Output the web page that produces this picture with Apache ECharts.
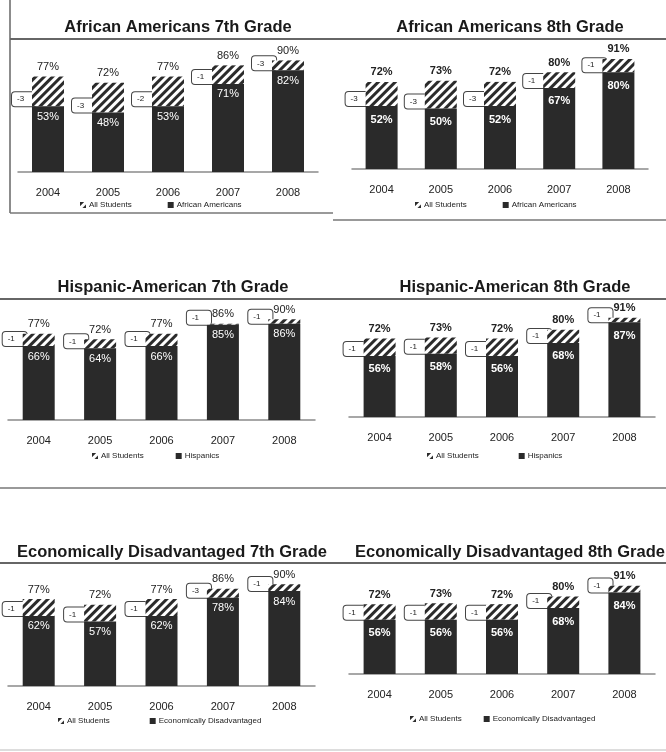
<!DOCTYPE html>
<html lang="en">
<head>
    <meta charset="UTF-8">
    <title>Grade comparisons</title>
    <style>
        html, body { margin: 0; padding: 0; background: #fff; }
        #main { width: 666px; height: 752px; }
    </style>
</head>
<body>
<div id="main"></div>
<script src="https://cdn.jsdelivr.net/npm/echarts@6/dist/echarts.min.js"></script>
<script type="text/javascript">
    // data
    var years = ['2004', '2005', '2006', '2007', '2008'];
    var allStudents7 = [77, 72, 77, 86, 90];
    var allStudents8 = [72, 73, 72, 80, 91];
    var africanAm7 = [53, 48, 53, 71, 82];
    var africanAm8 = [52, 50, 52, 67, 80];
    var hispanic7 = [66, 64, 66, 85, 86];
    var hispanic8 = [56, 58, 56, 68, 87];
    var econDis7 = [62, 57, 62, 78, 84];
    var econDis8 = [56, 56, 56, 68, 84];
    // small callout notes next to each group bar
    var notesAfr7 = ['-3', '-3', '-2', '-1', '-3'];
    var notesAfr8 = ['-3', '-3', '-3', '-1', '-1'];
    var notesHis7 = ['-1', '-1', '-1', '-1', '-1'];
    var notesHis8 = ['-1', '-1', '-1', '-1', '-1'];
    var notesEco7 = ['-1', '-1', '-1', '-3', '-1'];
    var notesEco8 = ['-1', '-1', '-1', '-1', '-1'];

    var panels = [
        {title: 'African Americans 7th Grade', group: 'African Americans', all: allStudents7, sub: africanAm7, notes: notesAfr7,
         grid: {left: 18, width: 300, top: 48, height: 124}, titlePos: {x: 173, y: 14}, legendTop: 201, legendX: 80, legendGap: 36, bold: false},
        {title: 'African Americans 8th Grade', group: 'African Americans', all: allStudents8, sub: africanAm8, notes: notesAfr8,
         grid: {left: 352, width: 296, top: 48, height: 121}, titlePos: {x: 505, y: 14}, legendTop: 201, legendX: 415, legendGap: 36, bold: true},
        {title: 'Hispanic-American 7th Grade', group: 'Hispanics', all: allStudents7, sub: hispanic7, notes: notesHis7,
         grid: {left: 8, width: 307, top: 308, height: 112}, titlePos: {x: 168, y: 274}, legendTop: 452, legendX: 92, legendGap: 32, bold: false},
        {title: 'Hispanic-American 8th Grade', group: 'Hispanics', all: allStudents8, sub: hispanic8, notes: notesHis8,
         grid: {left: 349, width: 306, top: 308, height: 109}, titlePos: {x: 510, y: 274}, legendTop: 452, legendX: 427, legendGap: 40, bold: true},
        {title: 'Economically Disadvantaged 7th Grade', group: 'Economically Disadvantaged', all: allStudents7, sub: econDis7, notes: notesEco7,
         grid: {left: 8, width: 307, top: 573, height: 113}, titlePos: {x: 167, y: 539}, legendTop: 717, legendX: 58, legendGap: 40, bold: false},
        {title: 'Economically Disadvantaged 8th Grade', group: 'Economically Disadvantaged', all: allStudents8, sub: econDis8, notes: notesEco8,
         grid: {left: 349, width: 306, top: 577, height: 97}, titlePos: {x: 350, y: 539, left: true}, legendTop: 715, legendX: 410, legendGap: 22, bold: true}
    ];

    var hatch = {
        symbol: 'rect',
        symbolSize: 1,
        dashArrayX: [1, 0],
        dashArrayY: [3, 3],
        rotation: -Math.PI / 4,
        color: '#2b2b2b'
    };

    var titles = [], grids = [], xAxes = [], yAxes = [], legends = [], series = [];

    panels.forEach(function (p, i) {
        titles.push({
            text: p.title,
            left: p.titlePos.x,
            top: p.titlePos.y,
            textAlign: p.titlePos.left ? 'left' : 'center',
            textStyle: {fontFamily: 'Liberation Sans', fontWeight: 'bold', fontSize: 16.5, color: '#1a1a1a'}
        });
        grids.push({left: p.grid.left, width: p.grid.width, top: p.grid.top, height: p.grid.height});
        xAxes.push({
            type: 'category', gridIndex: i, data: years,
            axisLine: {lineStyle: {color: '#8a8a8a', width: 1.5}},
            axisTick: {show: false},
            axisLabel: {margin: 15, fontSize: 11, color: '#222', fontFamily: 'Liberation Sans'}
        });
        yAxes.push({type: 'value', gridIndex: i, min: 0, max: 100, show: false, splitLine: {show: false}});
        legends.push({
            data: ['All Students', p.group],
            left: p.legendX, top: p.legendTop, width: 320,
            padding: 0, icon: 'rect',
            itemWidth: 6, itemHeight: 6, itemGap: p.legendGap,
            textStyle: {fontSize: 8, color: '#222', fontFamily: 'Liberation Sans', padding: [0, 0, 0, -2]},
            selectedMode: false
        });
        var fw = p.bold ? 'bold' : 'normal';
        // part of the All Students bar that rises above the group bar
        var gap = p.all.map(function (v, k) { return v - p.sub[k]; });

        // callout boxes sit behind the bars, poking out at the top-left corner
        series.push({
            name: 'note' + i, type: 'bar', xAxisIndex: i, yAxisIndex: i, z: 1,
            data: p.sub, barWidth: 32, barGap: '-100%',
            itemStyle: {color: 'rgba(0,0,0,0)'},
            label: {
                show: true, position: [-20, -14],
                formatter: function (d) { return p.notes[d.dataIndex]; },
                fontSize: 8, color: '#222', fontFamily: 'Liberation Sans',
                backgroundColor: '#fff', borderColor: '#444', borderWidth: 1, borderRadius: 3,
                padding: [3, 12, 3, 5]
            },
            silent: true
        });
        series.push({
            name: p.group, type: 'bar', xAxisIndex: i, yAxisIndex: i, z: 3,
            stack: 'g' + i,
            data: p.sub, barWidth: 32, barGap: '-100%',
            itemStyle: {color: '#2a2a2a'},
            label: {show: true, position: 'insideTop', distance: p.bold ? 8 : 5, formatter: '{c}%', fontSize: 11, fontWeight: fw, color: '#fff', fontFamily: 'Liberation Sans'},
            silent: true
        });
        series.push({
            name: 'All Students', type: 'bar', xAxisIndex: i, yAxisIndex: i, z: 2,
            stack: 'g' + i,
            data: gap, barWidth: 32, barGap: '-100%',
            itemStyle: {color: '#fff', decal: hatch},
            label: {
                show: true, position: 'top', distance: 4,
                formatter: function (d) { return p.all[d.dataIndex] + '%'; },
                fontSize: 11, fontWeight: fw, color: '#222', fontFamily: 'Liberation Sans'
            },
            silent: true
        });
    });

    function hline(x1, x2, y, w, c) {
        return {type: 'line', shape: {x1: x1, y1: y, x2: x2, y2: y}, style: {stroke: c || '#666', lineWidth: w || 2}, silent: true};
    }

    var option = {
        animation: false,
        title: titles,
        grid: grids,
        xAxis: xAxes,
        yAxis: yAxes,
        legend: legends,
        series: series,
        graphic: [
            {type: 'line', shape: {x1: 10, y1: 0, x2: 10, y2: 213}, style: {stroke: '#666', lineWidth: 1.5}, silent: true},
            hline(10, 666, 39, 2),
            hline(10, 333, 213, 1.5, '#777'),
            hline(333, 666, 220, 1.5, '#777'),
            hline(0, 666, 299, 2),
            hline(0, 666, 488, 1.5, '#777'),
            hline(0, 666, 563, 2),
            hline(0, 666, 750, 1, '#bbb')
        ]
    };

    var myChart = echarts.init(document.getElementById('main'));
    myChart.setOption(option);
</script>
</body>
</html>
